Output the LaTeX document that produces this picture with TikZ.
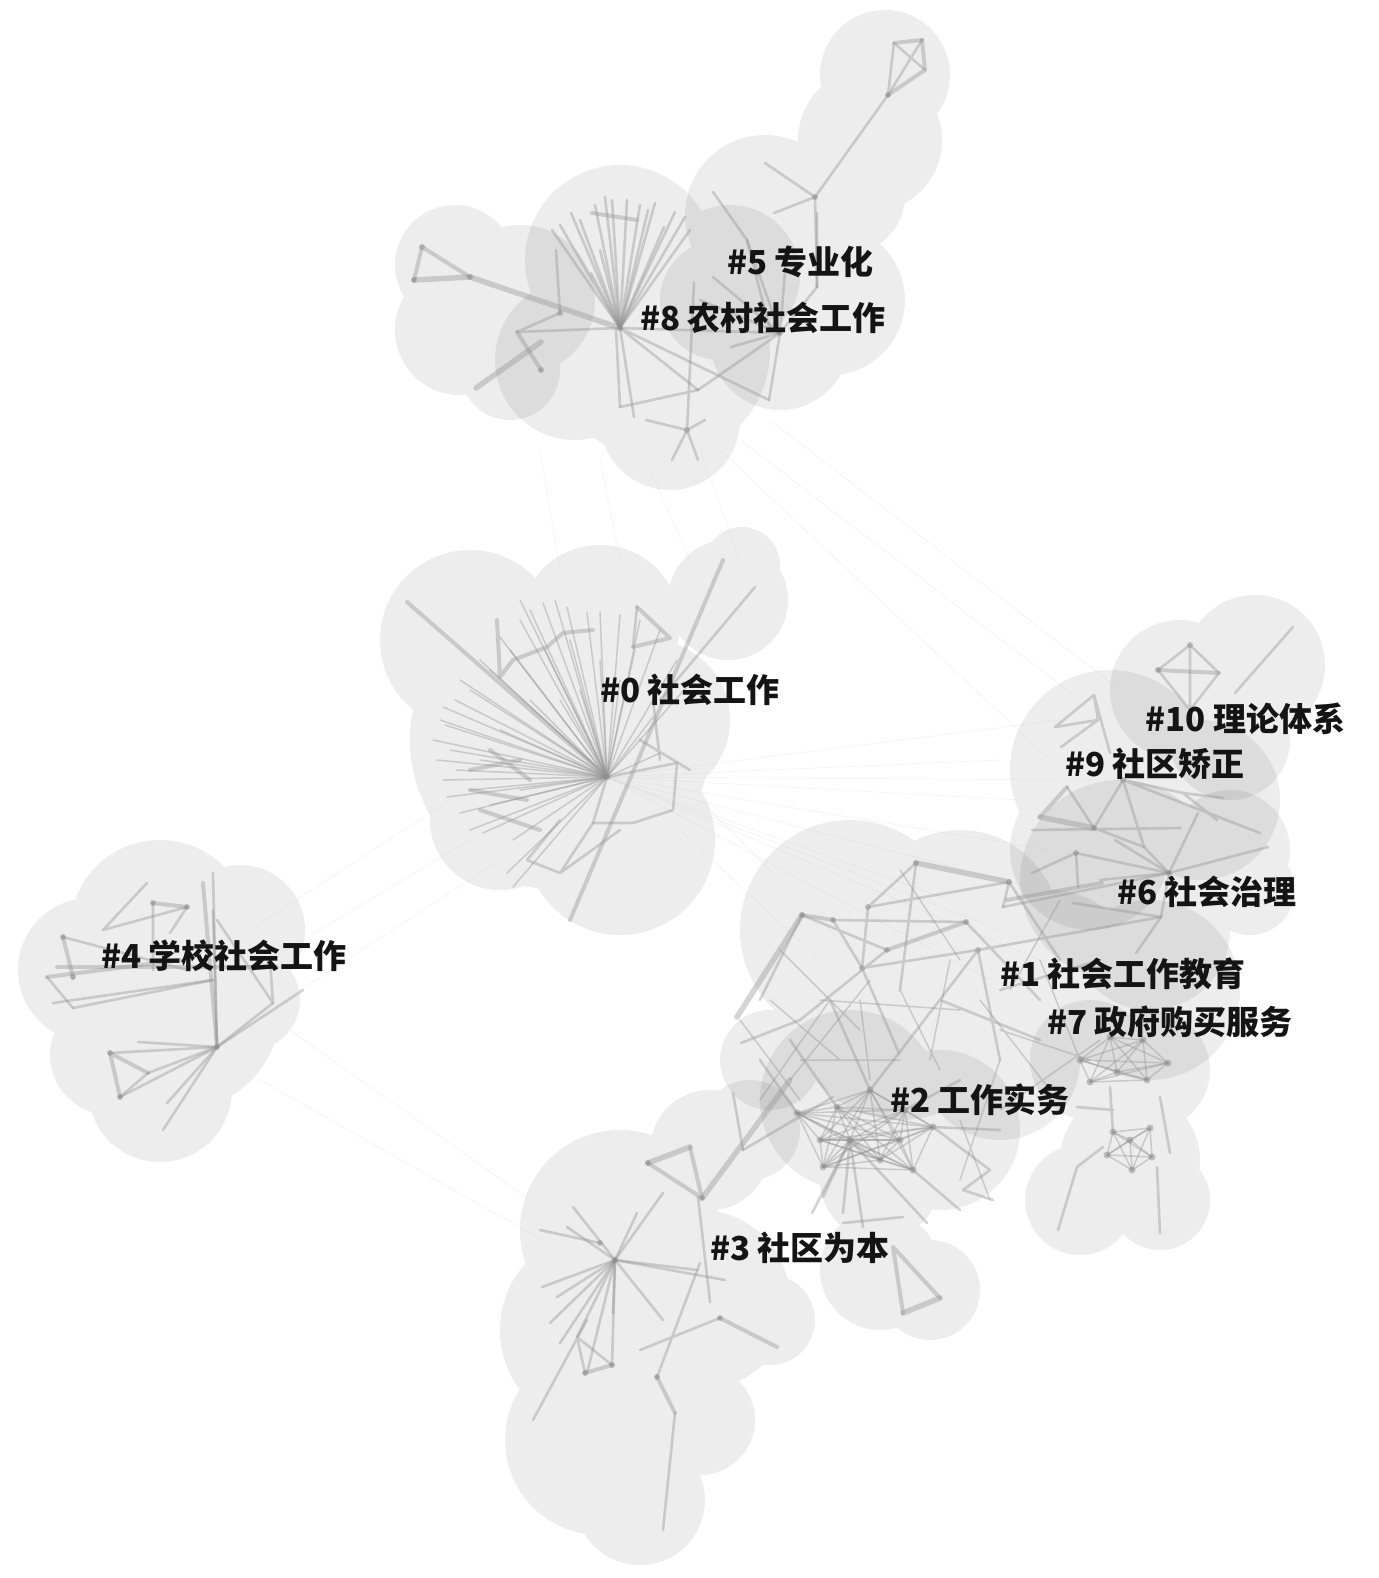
\documentclass[tikz,border=0pt]{standalone}
\usepackage{fontspec}
\newfontfamily\cjk{Noto Sans CJK SC}
\begin{document}
\begin{tikzpicture}[x=1pt,y=-1pt,
  e/.style={draw=black!42,line width=2.6pt,opacity=0.4,line cap=round},
  ew/.style={e,line width=1.5pt},
  em/.style={e,line width=4pt},
  et/.style={e,line width=5.5pt},
  ef/.style={draw=black!30,line width=0.5pt,opacity=0.18},
  dot/.style={fill=black!45,opacity=0.5},
  lab/.style={font=\cjk\bfseries\fontsize{33}{36}\selectfont,text=black!92,inner sep=0pt,anchor=west}]
\useasboundingbox[fill=white] (0,0) rectangle (1378,1578);
\newcommand\myblob[3]{\fill[black] (#1,#2) circle[radius=#3pt];}
% ---------- cluster hulls ----------
\begin{scope}[transparency group,opacity=0.07]% A left top
\myblob{455}{265}{60}\myblob{460}{330}{65}\myblob{520}{300}{75}\myblob{510}{370}{50}
\end{scope}
\begin{scope}[transparency group,opacity=0.07]% B #8
\myblob{620}{260}{95}\myblob{660}{350}{110}\myblob{670}{420}{70}\myblob{575}{360}{80}\myblob{730}{275}{70}
\end{scope}
\begin{scope}[transparency group,opacity=0.07]% C #5
\myblob{885}{75}{65}\myblob{870}{140}{72}\myblob{845}{195}{60}
\myblob{765}{215}{80}\myblob{830}{300}{75}\myblob{780}{340}{70}\myblob{720}{300}{60}
\end{scope}
\begin{scope}[transparency group,opacity=0.07]% D #0
\myblob{470}{640}{90}\myblob{600}{625}{80}\myblob{728}{600}{60}\myblob{742}{565}{38}
\myblob{560}{740}{150}\myblob{650}{720}{80}\myblob{620}{840}{95}\myblob{500}{820}{70}
\end{scope}
\begin{scope}[transparency group,opacity=0.07]% E #4
\myblob{160}{930}{90}\myblob{240}{930}{65}\myblob{90}{970}{72}\myblob{180}{1010}{100}
\myblob{160}{1090}{72}\myblob{110}{1055}{60}\myblob{250}{1000}{50}
\end{scope}
\begin{scope}[transparency group,opacity=0.07]% F #10
\myblob{1255}{665}{70}\myblob{1180}{690}{70}\myblob{1230}{740}{60}
\end{scope}
\begin{scope}[transparency group,opacity=0.07]% G #9
\myblob{1110}{770}{100}\myblob{1200}{800}{80}\myblob{1090}{850}{80}
\end{scope}
\begin{scope}[transparency group,opacity=0.07]% H #6
\myblob{1120}{880}{100}\myblob{1230}{850}{60}\myblob{1150}{930}{80}\myblob{1250}{890}{45}
\end{scope}
\begin{scope}[transparency group,opacity=0.07]% I #1
\myblob{850}{930}{110}\myblob{960}{930}{100}\myblob{770}{1060}{50}\myblob{900}{1010}{110}
\myblob{1050}{980}{90}\myblob{1150}{990}{90}\myblob{1000}{1060}{80}
\end{scope}
\begin{scope}[transparency group,opacity=0.07]% J #7
\myblob{1090}{1060}{60}\myblob{1150}{1070}{60}\myblob{1130}{1160}{70}\myblob{1080}{1200}{55}\myblob{1160}{1200}{50}
\end{scope}
\begin{scope}[transparency group,opacity=0.07]% K #2
\myblob{850}{1100}{90}\myblob{940}{1130}{80}\myblob{880}{1180}{60}\myblob{880}{1270}{60}\myblob{930}{1290}{50}
\end{scope}
\begin{scope}[transparency group,opacity=0.07]% L #3
\myblob{620}{1230}{100}\myblob{710}{1150}{60}\myblob{750}{1130}{50}\myblob{600}{1330}{100}
\myblob{700}{1300}{90}\myblob{770}{1320}{45}\myblob{600}{1440}{95}\myblob{640}{1500}{65}\myblob{700}{1420}{55}
\end{scope}
% ---------- faint links between clusters ----------
\coordinate (H0) at (607,777);
\foreach \x/\y in {1000/760,1020/800,1050/850,1080/900,1000/930,1040/960,990/980,1100/780,1060/720,950/900}
  \draw[ef] (H0) -- (\x,\y);
\foreach \a/\b/\c/\d in {540/450/560/570,600/460/620/560,650/470/690/560,700/450/740/560,740/440/1080/700,770/420/1120/690,720/450/1050/760,
  250/930/450/800,270/960/470/840,300/990/500/860,290/1030/530/1200,260/1080/560/1250,700/800/900/1000,680/830/820/960}
  \draw[ef] (\a,\b) -- (\c,\d);
% ---------- top clusters (#5, #8) ----------
\coordinate (H8) at (620,328);
\coordinate (R8) at (780,333);
\draw[em] (894,43)--(922,40);
\draw[e] (894,43)--(925,70) (894,43)--(888,95) (922,40)--(888,95);
\draw[em] (922,40)--(925,70) (925,70)--(888,95);
\draw[e] (888,95)--(815,197);
\draw[e] (815,197)--(765,163) (815,197)--(774,213) (815,197)--(817,287);
\draw[e] (713,192)--(747,240) (747,240)--(770,330);
\foreach \x/\y in {605/197,627/200,655/203,685/217,571/213,552/230,591/273,664/227,612/200,640/205,675/212,580/220,600/250,595/205,648/210,560/225,690/230}
  \draw[e] (H8) -- (\x,\y);
\draw[em] (592,213)--(637,220);
\draw[em] (422,247)--(414,280) (422,247)--(470,277);
\draw[et] (414,280)--(470,277) (470,277)--(H8);
\draw[e] (556,250)--(560,313) (560,313)--(517,332) (517,332)--(H8);
\draw[em] (517,332)--(541,370);
\draw[et] (541,342)--(476,388);
\draw[e] (H8)--(698,390) (H8)--(769,400) (616,330)--(620,407) (H8)--(634,417);
\draw[e] (694,283)--(687,430) (687,430)--(672,460) (687,430)--(698,460) (687,430)--(705,420) (646,420)--(687,430) (620,407)--(698,390);
\foreach \x/\y in {731/347,769/400,698/390,713/277,747/240,787/247,817/287,700/300}
  \draw[e] (R8) -- (\x,\y);
\draw[e] (817,213)--(817,287) (H8)--(R8);
\foreach \x/\y in {620/328,470/277,414/280,422/247,888/95,815/197,687/430,780/333,541/370,560/313}
  \fill[dot] (\x,\y) circle[radius=3pt];
% ---------- #0 ----------
\foreach \x/\y in {543/603,567/607,587/613,520/620,500/637,480/660,460/680,443/707,440/720,433/740,437/760,443/780,447/797,460/813,470/830,483/833,513/840,507/873,513/887,660/630,677/660,693/680,653/717,660/753,555/600,530/610,510/650,490/670,470/690,455/700,445/725,450/750,456/770,470/790,490/805,520/600,600/612,620/615,640/620,545/650,600/660,570/640,530/700,500/730,480/760,520/790,560/700,580/690,620/680,635/650}
  \draw[ew] (H0) -- (\x,\y);
\draw[em] (407,602)--(H0);
\draw[em] (570,920)--(723,560);
\draw[e] (755,587)--(660,700);
\draw[em] (637,607)--(670,638) (670,638)--(633,647);
\draw[e] (633,647)--(637,607);
\draw[em] (497,620)--(500,677) (500,677)--(513,660) (513,660)--(547,647) (547,647)--(563,633) (563,633)--(593,630);
\draw[e] (H0)--(677,763) (677,763)--(673,810) (673,810)--(633,823) (633,823)--(593,823) (593,823)--(H0);
\draw[e] (560,873)--(527,860) (560,873)--(620,830) (527,860)--(560,820) (593,823)--(560,873);
\draw[em] (470,790)--(527,800) (480,810)--(540,830) (470,770)--(520,760) (490,750)--(530,780);
\draw[e] (653,700)--(660,760) (640,740)--(690,770);
\fill[dot] (H0) circle[radius=3.5pt];
% ---------- #4 ----------
\coordinate (H4) at (217,1047);
\foreach \x/\y in {213/873,213/910,303/990,273/1003,110/1053,148/1073,120/1097,163/1130,167/1103,138/1042}
  \draw[e] (H4) -- (\x,\y);
\draw[em] (H4)--(203,883);
\draw[em] (110,1053)--(120,1097) (110,1053)--(148,1073);
\draw[e] (120,1097)--(148,1073);
\draw[em] (63,937)--(73,977);
\draw[e] (63,937)--(187,970);
\draw[em] (57,967)--(277,967);
\draw[e] (47,977)--(73,1008);
\draw[em] (47,977)--(180,960);
\draw[e] (73,1008)--(213,980) (147,883)--(103,930) (103,930)--(187,907);
\draw[em] (153,903)--(187,907);
\draw[e] (153,903)--(153,970) (187,907)--(170,933) (217,920)--(273,1003) (53,1003)--(213,980) (273,1003)--(270,960);
\foreach \x/\y in {217/1047,110/1053,120/1097,63/937,73/977,153/903,187/907}
  \fill[dot] (\x,\y) circle[radius=3pt];
% ---------- #10, #9, #6 ----------
\draw[e] (1190,645)--(1158,670) (1190,645)--(1219,673) (1190,645)--(1190,710) (1158,670)--(1190,710) (1219,673)--(1190,710);
\draw[em] (1158,670)--(1219,673);
\draw[e] (1293,627)--(1235,693);
\draw[e] (1094,695)--(1055,727) (1094,695)--(1110,753) (1055,727)--(1098,720) (1061,747)--(1098,720) (1094,695)--(1098,720);
\draw[em] (1067,787)--(1040,817);
\draw[e] (1067,787)--(1094,828);
\draw[et] (1040,817)--(1094,828);
\draw[e] (1094,828)--(1123,780) (1123,780)--(1183,793) (1183,793)--(1223,798) (1123,780)--(1260,833) (1183,793)--(1217,820) (1123,780)--(1144,847) (1094,828)--(1144,847) (1032,830)--(1181,828);
\coordinate (H6) at (1169,873);
\foreach \x/\y in {1076/853,1115/840,1144/847,1268/847,1198/813,1161/917,1100/880}
  \draw[e] (H6) -- (\x,\y);
\draw[e] (1076,853)--(1078,887) (1032,873)--(1076,853) (1003,907)--(H6) (1161,917)--(1136,953) (1073,903)--(1161,917);
\draw[em] (1007,900)--(1102,883);
\foreach \x/\y in {1190/645,1158/670,1094/828,1123/780,1169/873,1076/853}
  \fill[dot] (\x,\y) circle[radius=3pt];
% ---------- #1 ----------
\draw[et] (916,863)--(1009,882);
\draw[e] (916,863)--(868,907) (868,907)--(862,968) (802,915)--(887,950) (833,920)--(862,968) (862,968)--(978,950)
  (978,950)--(1161,917) (800,1020)--(887,950) (741,1043)--(800,1020) (899,1053)--(978,950) (899,1053)--(862,968)
  (833,920)--(966,922) (868,907)--(1009,882) (1000,990)--(1100,960) (940,1000)--(1040,1040) (1009,882)--(1003,907)
  (916,863)--(900,990) (802,915)--(760,1000) (966,922)--(1040,1000) (1009,882)--(1060,960) (978,950)--(1000,1060);
\draw[ew] (740,1020)--(800,1100) (760,1100)--(830,1000) (790,1080)--(870,980) (800,1060)--(900,1060) (820,1000)--(960,1010)
  (860,1000)--(870,1080) (900,990)--(940,1070) (950,960)--(930,1060) (980,1000)--(1050,1090) (1000,1030)--(1090,1060)
  (1040,960)--(1080,1060) (1060,900)--(1010,990) (900,870)--(960,960) (1000,1110)--(1100,1040) (960,1180)--(1000,1060)
  (990,1200)--(960,1120) (770,1000)--(840,1060) (780,950)--(860,1030);
\draw[em] (802,915)--(833,920) (887,950)--(966,922);
\draw[et] (802,915)--(737,1017);
\foreach \x/\y in {916/863,1009/882,868/907,802/915,833/920,887/950,978/950,862/968,966/922}
  \fill[dot] (\x,\y) circle[radius=3pt];
% ---------- #7 ----------
\coordinate (p1) at (1080,1060);\coordinate (p2) at (1090,1082);\coordinate (p3) at (1117,1072);
\coordinate (p4) at (1147,1080);\coordinate (p5) at (1168,1063);\coordinate (p6) at (1143,1040);\coordinate (p7) at (1110,1037);
\foreach \i in {1,...,7}{\foreach \j in {1,...,7}{\ifnum\i<\j \draw[ew] (p\i)--(p\j);\fi}}
\coordinate (q1) at (1113,1132);\coordinate (q2) at (1150,1128);\coordinate (q3) at (1107,1155);
\coordinate (q4) at (1132,1170);\coordinate (q5) at (1152,1157);\coordinate (q6) at (1130,1140);
\foreach \i in {1,...,6}{\foreach \j in {1,...,6}{\ifnum\i<\j \draw[ew] (q\i)--(q\j);\fi}}
\foreach \i in {1,...,7} \fill[dot] (p\i) circle[radius=3.5pt];
\foreach \i in {1,...,6} \fill[dot] (q\i) circle[radius=3.5pt];
\draw[e] (1110,1087)--(q1) (1077,1167)--(1058,1230) (1077,1167)--(1103,1147) (1157,1167)--(1160,1233) (1160,1097)--(1170,1153) (1077,1107)--(1113,1110);
% ---------- #2 ----------
\coordinate (k1) at (837,1107);\coordinate (k2) at (823,1167);\coordinate (k3) at (913,1170);
\coordinate (k4) at (933,1127);\coordinate (k5) at (797,1113);\coordinate (k6) at (870,1090);
\coordinate (k7) at (900,1140);\coordinate (k8) at (850,1140);\coordinate (k9) at (880,1160);
\coordinate (k10) at (820,1140);\coordinate (k11) at (905,1110);
\foreach \i in {1,...,11}{\foreach \j in {1,...,11}{\ifnum\i<\j \draw[ew] (k\i)--(k\j);\fi}}
\foreach \i in {1,...,11} \fill[dot] (k\i) circle[radius=3.5pt];
\foreach \x/\y in {812/1213,823/1197,863/1227,927/1223,843/1213}
  \draw[e] (k8) -- (\x,\y);
\draw[em] (893,1247)--(940,1298) (893,1247)--(903,1313);
\draw[et] (903,1313)--(940,1298);
\draw[e] (843,1223)--(903,1217) (963,1190)--(993,1200) (990,1170)--(963,1190) (k4)--(990,1170) (k4)--(1000,1130) (k3)--(960,1210);
\draw[e] (k5)--(760,1060) (k1)--(790,1040) (k6)--(830,1000) (k11)--(960,1080) (k6)--(899,1053);
% ---------- #3 ----------
\coordinate (H3) at (615,1260);
\draw[et] (648,1163)--(690,1147) (703,1197)--(790,1080);
\draw[em] (690,1147)--(702,1198) (648,1163)--(702,1198);
\draw[e] (743,1150)--(833,1097);
\foreach \x/\y in {573/1207,567/1227,542/1287,557/1297,550/1323,560/1343,577/1337,587/1373,612/1365,613/1313,663/1320,725/1280,697/1270,637/1213,663/1193}
  \draw[e] (H3) -- (\x,\y);
\draw[e] (533,1420)--(587,1320) (577,1337)--(585,1373) (577,1337)--(612,1365) (640,1350)--(720,1318)
  (700,1263)--(657,1377) (675,1413)--(663,1530) (710,1302)--(698,1197) (733,1093)--(743,1150) (540,1230)--(600,1243);
\draw[em] (585,1373)--(612,1365) (720,1318)--(777,1347) (657,1377)--(675,1413);
\foreach \x/\y in {615/1260,600/1243,648/1163,702/1198,585/1373,612/1365,720/1318,657/1377}
  \fill[dot] (\x,\y) circle[radius=3pt];
% ---------- labels ----------
\node[lab] (l5) at (727,262) {\#5 专业化};
\node[lab] (l8) at (640,318) {\#8 农村社会工作};
\node[lab] (l0) at (600,690) {\#0 社会工作};
\node[lab] (l10) at (1145,719) {\#10 理论体系};
\node[lab] (l9) at (1065,764) {\#9 社区矫正};
\node[lab] (l6) at (1117,892) {\#6 社会治理};
\node[lab] (l4) at (101,956) {\#4 学校社会工作};
\node[lab] (l1) at (1000,974) {\#1 社会工作教育};
\node[lab] (l7) at (1047,1022) {\#7 政府购买服务};
\node[lab] (l2) at (890,1100) {\#2 工作实务};
\node[lab] (l3) at (710,1248) {\#3 社区为本};
\end{tikzpicture}
\end{document}
